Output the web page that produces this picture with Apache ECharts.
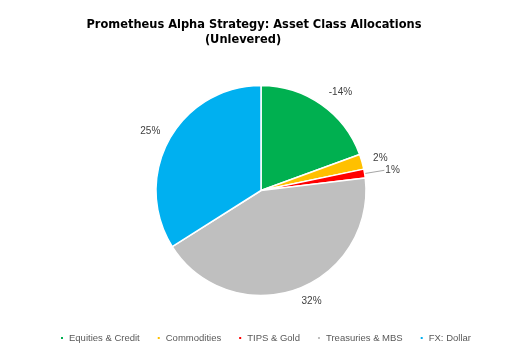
<!DOCTYPE html>
<html>
<head>
<meta charset="utf-8">
<script src="https://cdn.jsdelivr.net/npm/echarts@6/dist/echarts.min.js"></script>
<style>
html,body{margin:0;padding:0;background:#fff;}
#chart{width:505px;height:353px;}
</style>
</head>
<body>
<div id="chart"></div>
<script>
// ---- data ----
const titleLine1 = 'Prometheus Alpha Strategy: Asset Class Allocations';
const titleLine2 = '(Unlevered)';
const categories = ['Equities & Credit', 'Commodities', 'TIPS & Gold', 'Treasuries & MBS', 'FX: Dollar'];
const allocations = [-14.3, 1.7, 1.0, 31.6, 25.0]; // percent; slices sized by magnitude
const colors = ['#00B050', '#FFC000', '#FF0000', '#BFBFBF', '#00B0F0'];

// label placement tuning (style only)
const labelLineLen = [15, 13.6, 20, 13, 18];
const labelGap = [-1, -2, 1, 1, -7];
const labelLineShown = [false, false, true, false, false];

const fontFam = 'Liberation Sans, Arial, sans-serif';
const titleFam = '"DejaVu Sans Condensed", "Liberation Sans", sans-serif';

// fit the title font so its first line is as wide as in the reference (~336px)
const mc = document.createElement('canvas').getContext('2d');
mc.font = 'bold 100px ' + titleFam;
const titleSize = Math.round(100 * 336 / mc.measureText(titleLine1).width * 10) / 10;

const chart = echarts.init(document.getElementById('chart'), null, {renderer: 'canvas'});

const data = categories.map((name, i) => ({
  name: name,
  value: Math.abs(allocations[i]),
  raw: allocations[i],
  itemStyle: {color: colors[i]},
  label: {distanceToLabelLine: labelGap[i]},
  labelLine: {show: labelLineShown[i], length: labelLineLen[i], length2: 0}
}));

const titleStyle = {fontFamily: titleFam, fontWeight: 'bold', fontSize: titleSize, color: '#000', lineHeight: 15};

chart.setOption({
  animation: false,
  backgroundColor: '#ffffff',
  title: [
    {text: titleLine1, left: 254, top: 17, padding: 0, textAlign: 'center', textStyle: titleStyle},
    {text: titleLine2, left: 243, top: 32, padding: 0, textAlign: 'center', textStyle: titleStyle}
  ],
  legend: {
    data: categories,
    left: 54,
    top: 328,
    itemWidth: 4,
    itemHeight: 4,
    itemGap: 16,
    icon: 'rect',
    textStyle: {fontFamily: fontFam, fontSize: 9.5, color: '#595959'}
  },
  series: [{
    type: 'pie',
    center: [261, 190.5],
    radius: 105,
    startAngle: 90,
    clockwise: true,
    avoidLabelOverlap: false,
    data: data,
    itemStyle: {borderColor: '#ffffff', borderWidth: 1.5},
    label: {
      show: true,
      position: 'outside',
      fontFamily: fontFam,
      fontSize: 10,
      color: '#404040',
      formatter: p => Math.round(p.data.raw) + '%'
    },
    labelLine: {lineStyle: {color: '#A6A6A6', width: 1}},
    emphasis: {disabled: true}
  }]
});
</script>
</body>
</html>
